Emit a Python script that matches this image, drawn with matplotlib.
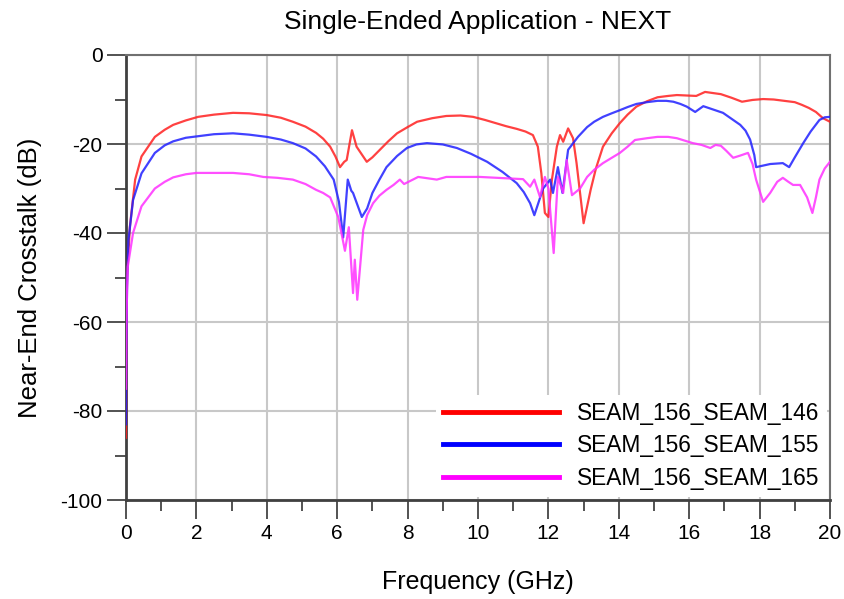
import matplotlib
matplotlib.use("Agg")
import matplotlib.pyplot as plt
from matplotlib.ticker import MultipleLocator

plt.rcParams["font.family"] = ["Liberation Sans", "DejaVu Sans"]
plt.rcParams["axes.unicode_minus"] = False

# NEXT curves, frequency in GHz and crosstalk in dB
freq_146 = [0, 0.01, 0.03, 0.11, 0.26, 0.44, 0.82, 1.1, 1.34, 1.7, 2.05, 2.5,
            3.04, 3.5, 4.0, 4.4, 4.74, 5.1, 5.4, 5.6, 5.8, 5.95, 6.08, 6.2,
            6.27, 6.42, 6.55, 6.84, 7.0, 7.2, 7.45, 7.7, 8.0, 8.27, 8.7, 9.1,
            9.5, 9.86, 10.2, 10.5, 10.8, 11.1, 11.35, 11.56, 11.7, 11.8, 11.9,
            12.0, 12.1, 12.24, 12.33, 12.42, 12.56, 12.7, 12.8, 13.0, 13.2,
            13.35, 13.55, 13.8, 14.03, 14.25, 14.5, 14.8, 15.1, 15.4, 15.65,
            16.2, 16.45, 16.9, 17.2, 17.5, 17.8, 18.1, 18.4, 18.7, 19.0, 19.2,
            19.4, 19.6, 19.8, 20.0]
next_146 = [-86, -62, -50, -38.6, -28, -22.8, -18.4, -16.8, -15.7, -14.7, -13.9, -13.4,
            -13.0, -13.1, -13.5, -14.1, -15.0, -16.1, -17.5, -18.8, -20.6, -22.8, -25.2, -24,
            -23.6, -16.9, -20.6, -24, -23, -21.4, -19.4, -17.6, -16.2, -15, -14.2, -13.7,
            -13.6, -13.9, -14.6, -15.3, -16, -16.6, -17.2, -18, -20.6, -26.6, -35.5,
            -36.4, -28, -20.6, -18, -19.5, -16.5, -18.7, -24.3, -37.8, -30.3,
            -25.5, -20.6, -17.6, -15.3, -13.4, -11.6, -10.4, -9.5, -9.2, -9.0,
            -9.2, -8.3, -8.8, -9.6, -10.5, -10.1, -9.9, -10.0, -10.3, -10.6, -11.2,
            -11.9, -12.8, -14.2, -15]

freq_155 = [0, 0.01, 0.03, 0.07, 0.2, 0.44, 0.82, 1.1, 1.34, 1.7, 2.1, 2.5, 3.04,
            3.5, 4.0, 4.4, 4.74, 5.1, 5.4, 5.65, 5.9, 6.05, 6.17, 6.3, 6.4, 6.45,
            6.7, 6.85, 7.0, 7.2, 7.4, 7.7, 7.98, 8.25, 8.55, 9.0, 9.4, 9.8,
            10.26, 10.7, 11.1, 11.3, 11.48, 11.6, 11.85, 12.05, 12.13, 12.27,
            12.4, 12.56, 12.84, 13.1, 13.3, 13.55, 13.8, 14.03, 14.25, 14.5,
            14.8, 15.1, 15.35, 15.55, 15.75, 15.93, 16.17, 16.4, 16.96, 17.45,
            17.6, 17.73, 17.85, 17.9, 18.3, 18.66, 18.84, 19.0, 19.24, 19.45,
            19.7, 19.85, 20.0]
next_155 = [-83, -65, -52, -41.6, -32.6, -26.6, -22, -20.3, -19.4, -18.6, -18.2, -17.8, -17.6,
            -17.9, -18.4, -19.0, -19.8, -21, -22.8, -25, -28, -33, -41, -28, -30.5, -31,
            -36.4, -34.5, -31, -28, -25.2, -22.7, -20.9, -20.1, -19.8, -20.1, -20.9, -22.2,
            -24, -26.3, -28.8, -30.8, -33.3, -36, -30, -28, -31, -25.2,
            -31, -21.3, -18.4, -16.2, -15, -13.9, -13.1, -12.4, -11.7, -11.0,
            -10.6, -10.3, -10.3, -10.5, -11.0, -11.6, -12.8, -11.5, -13, -15.7,
            -17, -19, -22.5, -25.2, -24.5, -24.3, -25.2, -23, -19.8, -17.2,
            -14.6, -14.0, -13.9]

freq_165 = [0, 0.01, 0.03, 0.05, 0.2, 0.44, 0.82, 1.1, 1.34, 1.7, 2.0, 3.04, 3.5,
            3.9, 4.3, 4.74, 5.1, 5.4, 5.6, 5.8, 6.03, 6.22, 6.33, 6.45, 6.5,
            6.57, 6.74, 6.85, 7.02, 7.2, 7.4, 7.6, 7.78, 7.9, 8.3, 8.83, 9.1,
            10.05, 11.28, 11.48, 11.6, 11.76, 11.9, 12.0, 12.15, 12.27, 12.42,
            12.52, 12.67, 12.9, 13.1, 13.3, 13.55, 13.8, 14.03, 14.25, 14.46,
            14.8, 15.1, 15.4, 15.65, 16.1, 16.35, 16.6, 16.75, 16.9, 17.05,
            17.25, 17.45, 17.67, 17.8, 17.9, 18.1, 18.3, 18.5, 18.66, 18.8,
            18.95, 19.15, 19.35, 19.5, 19.6, 19.7, 19.85, 20.0]
next_165 = [-75, -62, -53, -47.6, -40, -34, -30, -28.5, -27.5, -26.8, -26.5, -26.5, -26.8,
            -27.4, -27.6, -28, -29, -30.3, -31, -32, -36.4, -44, -38.7, -53.5, -46,
            -55, -39.3, -36, -33.3, -31.6, -30.3, -29.2, -28, -29, -27.4, -28, -27.4,
            -27.4, -27.9, -29.6, -28, -31.9, -27.4, -30, -44.5, -27.4, -31,
            -23.6, -31.5, -30, -27.4, -25.8, -24.3, -23.1, -22, -20.6, -19.1,
            -18.7, -18.4, -18.4, -18.7, -19.8, -20.2, -20.9, -20.2, -20.4, -21.5,
            -23.1, -22.6, -22, -24.5, -28, -33, -31, -28.5, -27.6, -28.4,
            -29.2, -29.2, -32, -35.5, -32, -28, -25.5, -24]

labels = ["SEAM_156_SEAM_146", "SEAM_156_SEAM_155", "SEAM_156_SEAM_165"]
colors = ["#ff2020", "#2020ff", "#ff30ff"]

fig = plt.figure(figsize=(8.45, 5.99), dpi=100)
ax = fig.add_axes([126 / 845, 1 - 500 / 599, 704 / 845, 445 / 599])

series = [(freq_146, next_146), (freq_155, next_155), (freq_165, next_165)]
for (f, v), lab, c in zip(series, labels, colors):
    ax.plot(f, v, color=c, lw=1.6, alpha=0.85, label=lab, zorder=3)

ax.set_xlim(0, 20)
ax.set_ylim(-100, 0)
ax.xaxis.set_major_locator(MultipleLocator(2))
ax.xaxis.set_minor_locator(MultipleLocator(1))
ax.yaxis.set_major_locator(MultipleLocator(20))
ax.yaxis.set_minor_locator(MultipleLocator(10))

ax.grid(True, which="major", color="#c8c8c8", lw=1.5, zorder=0)
ax.tick_params(which="major", direction="out", length=14, width=1.3,
               color="#444444", labelsize=15, pad=3)
ax.tick_params(which="minor", direction="out", length=8, width=1.3,
               color="#444444")

for side in ["left", "bottom"]:
    ax.spines[side].set_linewidth(2)
    ax.spines[side].set_color("#404040")
for side in ["top", "right"]:
    ax.spines[side].set_linewidth(1.5)
    ax.spines[side].set_color("#707070")

ax.set_title("Single-Ended Application - NEXT", fontsize=19, pad=19)
ax.set_xlabel("Frequency (GHz)", fontsize=18, labelpad=20)
ax.set_ylabel("Near-End Crosstalk (dB)", fontsize=18.5, labelpad=13)

leg = ax.legend(loc="lower right", fontsize=16.4, frameon=True, fancybox=False,
                edgecolor="none", facecolor="white", framealpha=1,
                handlelength=5.1, handletextpad=0.8, labelspacing=0.42,
                borderaxespad=0.15, borderpad=0.3)
for line, c in zip(leg.get_lines(), ["red", "blue", "magenta"]):
    line.set_linewidth(3.5)
    line.set_alpha(1)
    line.set_color(c)

fig.savefig("out.png", dpi=100)
